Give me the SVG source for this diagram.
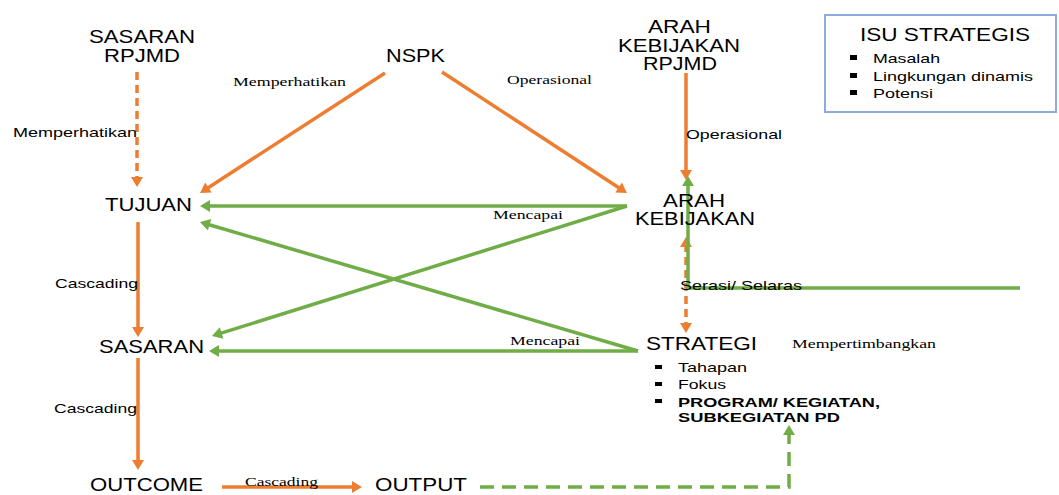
<svg xmlns="http://www.w3.org/2000/svg" width="1059" height="495" viewBox="0 0 1059 495">
<defs>
<style>
.n{font-family:"Liberation Sans",Arial,sans-serif;font-size:17.5px;fill:#000}
.s{font-family:"Liberation Sans",Arial,sans-serif;font-size:13px;fill:#000}
.b{font-family:"Liberation Sans",Arial,sans-serif;font-size:13px;font-weight:bold;fill:#000}
.r{font-family:"Liberation Serif","Times New Roman",serif;font-size:13.5px;fill:#000}
.o{stroke:#ED7D31;stroke-width:3.5;fill:none}
.g{stroke:#70AD47;stroke-width:3.5;fill:none}
.od{stroke-dasharray:8 5}
.gd{stroke-dasharray:14 8}
.bl{fill:#000}
</style>
<marker id="ao" markerUnits="userSpaceOnUse" markerWidth="12" markerHeight="12" refX="3" refY="6" orient="auto-start-reverse" viewBox="0 0 10 12"><path d="M0,0 L10,6 L0,12 z" fill="#ED7D31"/></marker>
<marker id="ag" markerUnits="userSpaceOnUse" markerWidth="12" markerHeight="12" refX="3" refY="6" orient="auto-start-reverse" viewBox="0 0 10 12"><path d="M0,0 L10,6 L0,12 z" fill="#70AD47"/></marker>
</defs>
<rect width="1059" height="495" fill="#fff"/>
<g id="connectors">
<line class="o od" x1="137" y1="72" x2="137" y2="180" marker-end="url(#ao)"/>
<line class="o" x1="385" y1="73" x2="205.9" y2="189.2" marker-end="url(#ao)"/>
<line class="o" x1="442" y1="72" x2="621.1" y2="189.2" marker-end="url(#ao)"/>
<line class="o" x1="686" y1="73" x2="686" y2="173" marker-end="url(#ao)"/>
<line class="o od" x1="686" y1="244" x2="686" y2="326" marker-start="url(#ao)" marker-end="url(#ao)"/>
<path class="g" d="M1020,288 H688 V183" marker-end="url(#ag)"/>
<line class="g" x1="627" y1="206" x2="207" y2="206" marker-end="url(#ag)"/>
<line class="g" x1="627" y1="206" x2="218.7" y2="333.9" marker-end="url(#ag)"/>
<line class="g" x1="638" y1="351" x2="206.7" y2="224" marker-end="url(#ag)"/>
<line class="g" x1="638" y1="351" x2="216" y2="351" marker-end="url(#ag)"/>
<line class="o" x1="138" y1="222" x2="138" y2="330" marker-end="url(#ao)"/>
<line class="o" x1="138" y1="358" x2="138" y2="463" marker-end="url(#ao)"/>
<line class="o" x1="222" y1="487" x2="355" y2="487" marker-end="url(#ao)"/>
<path class="g gd" d="M480,487 H789 V432" marker-end="url(#ag)"/>
</g>
<g id="labels">
<text class="s" x="13" y="137" textLength="124" lengthAdjust="spacingAndGlyphs">Memperhatikan</text>
<text class="r" x="233" y="86" textLength="113" lengthAdjust="spacingAndGlyphs">Memperhatikan</text>
<text class="r" x="507" y="84" textLength="85" lengthAdjust="spacingAndGlyphs">Operasional</text>
<text class="s" x="686" y="139" textLength="96" lengthAdjust="spacingAndGlyphs">Operasional</text>
<text class="r" x="493" y="219" textLength="70" lengthAdjust="spacingAndGlyphs">Mencapai</text>
<text class="r" x="510" y="345" textLength="70" lengthAdjust="spacingAndGlyphs">Mencapai</text>
<text class="s" x="680" y="290" textLength="122" lengthAdjust="spacingAndGlyphs">Serasi/ Selaras</text>
<text class="r" x="792" y="348" textLength="144" lengthAdjust="spacingAndGlyphs">Mempertimbangkan</text>
<text class="s" x="55" y="288" textLength="83" lengthAdjust="spacingAndGlyphs">Cascading</text>
<text class="s" x="54" y="413" textLength="83" lengthAdjust="spacingAndGlyphs">Cascading</text>
<text class="r" x="245" y="486" textLength="73" lengthAdjust="spacingAndGlyphs">Cascading</text>
</g>
<g id="sasaran-rpjmd">
<text class="n" x="89" y="43" textLength="106" lengthAdjust="spacingAndGlyphs">SASARAN</text>
<text class="n" x="104" y="62" textLength="76" lengthAdjust="spacingAndGlyphs">RPJMD</text>
</g>
<g id="nspk"><text class="n" x="386" y="62" textLength="59" lengthAdjust="spacingAndGlyphs">NSPK</text></g>
<g id="arah-kebijakan-rpjmd">
<text class="n" x="648" y="33" textLength="63" lengthAdjust="spacingAndGlyphs">ARAH</text>
<text class="n" x="618" y="52" textLength="122" lengthAdjust="spacingAndGlyphs">KEBIJAKAN</text>
<text class="n" x="643" y="70" textLength="74" lengthAdjust="spacingAndGlyphs">RPJMD</text>
</g>
<g id="isu-strategis">
<rect x="825" y="15" width="231" height="97" fill="#fff" stroke="#8FAADC" stroke-width="2"/>
<text class="n" x="860" y="41" textLength="170" lengthAdjust="spacingAndGlyphs">ISU STRATEGIS</text>
<rect class="bl" x="850" y="55" width="7" height="5"/>
<rect class="bl" x="850" y="73" width="7" height="5"/>
<rect class="bl" x="850" y="90" width="7" height="5"/>
<text class="s" x="873" y="63" textLength="67" lengthAdjust="spacingAndGlyphs">Masalah</text>
<text class="s" x="873" y="81" textLength="160" lengthAdjust="spacingAndGlyphs">Lingkungan dinamis</text>
<text class="s" x="873" y="98" textLength="60" lengthAdjust="spacingAndGlyphs">Potensi</text>
</g>
<g id="tujuan"><text class="n" x="105" y="211" textLength="87" lengthAdjust="spacingAndGlyphs">TUJUAN</text></g>
<g id="arah-kebijakan">
<text class="n" x="663" y="207" textLength="62" lengthAdjust="spacingAndGlyphs">ARAH</text>
<text class="n" x="635" y="225" textLength="120" lengthAdjust="spacingAndGlyphs">KEBIJAKAN</text>
</g>
<g id="sasaran"><text class="n" x="99" y="353" textLength="105" lengthAdjust="spacingAndGlyphs">SASARAN</text></g>
<g id="strategi">
<text class="n" x="646" y="350" textLength="111" lengthAdjust="spacingAndGlyphs">STRATEGI</text>
<rect class="bl" x="655" y="365" width="7" height="4"/>
<rect class="bl" x="655" y="382" width="7" height="4"/>
<rect class="bl" x="655" y="399" width="7" height="4"/>
<text class="s" x="678" y="372" textLength="69" lengthAdjust="spacingAndGlyphs">Tahapan</text>
<text class="s" x="678" y="389" textLength="48" lengthAdjust="spacingAndGlyphs">Fokus</text>
<text class="b" x="678" y="407" textLength="202" lengthAdjust="spacingAndGlyphs">PROGRAM/ KEGIATAN,</text>
<text class="b" x="678" y="422" textLength="162" lengthAdjust="spacingAndGlyphs">SUBKEGIATAN PD</text>
</g>
<g id="outcome"><text class="n" x="90" y="491" textLength="113" lengthAdjust="spacingAndGlyphs">OUTCOME</text></g>
<g id="output"><text class="n" x="375" y="491" textLength="92" lengthAdjust="spacingAndGlyphs">OUTPUT</text></g>
</svg>
